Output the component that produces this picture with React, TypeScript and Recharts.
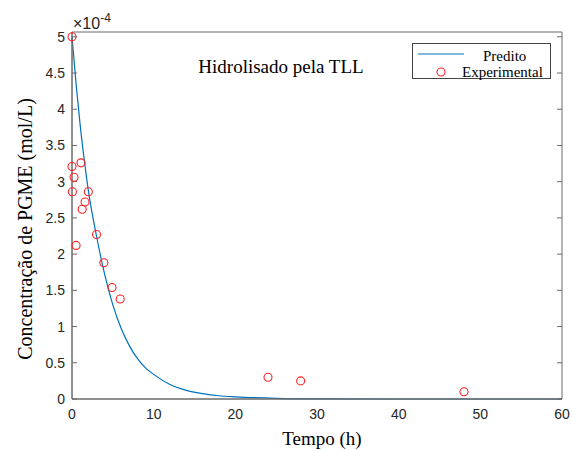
import React from 'react';
import { ComposedChart, Line, Scatter, XAxis, YAxis, Legend } from 'recharts';

// Experimental measurements (time in h, concentration in units of 1e-4 mol/L)
const expTime = [0, 0, 1.1, 0.25, 0.05, 2, 1.6, 1.25, 3, 0.5, 3.9, 4.9, 5.9, 24, 28, 48];
const expConc = [5.0, 3.21, 3.26, 3.06, 2.86, 2.86, 2.72, 2.62, 2.27, 2.12, 1.88, 1.54, 1.38, 0.3, 0.25, 0.1];

// Predicted curve
const predTime = [0, 0.5, 1, 1.5, 2, 3, 4, 5, 6, 7, 8, 9, 10, 12, 14, 16, 18, 20, 25, 30, 40, 50, 60];
const predConc = [5.0, 4.35, 3.78, 3.3, 2.88, 2.25, 1.72, 1.3, 0.98, 0.74, 0.56, 0.43, 0.34, 0.2, 0.12, 0.075, 0.045, 0.03, 0.01, 0.003, 0, 0, 0];

const xTicks = [0, 10, 20, 30, 40, 50, 60];
const yTicks = [0, 0.5, 1, 1.5, 2, 2.5, 3, 3.5, 4, 4.5, 5];

const expData = expTime.map((t, i) => ({ t, c: expConc[i] }));
const predData = predTime.map((t, i) => ({ t, c: predConc[i] }));

const X_DOMAIN: [number, number] = [0, 60];
const Y_DOMAIN: [number, number] = [0, 5.066];

const AXIS_COLOR = '#6b6b6b';
const TICK_FONT = { fill: '#262626', fontSize: 14, fontFamily: 'Liberation Sans, Arial, sans-serif' };
const SERIF = 'Liberation Serif, Times New Roman, serif';

const blank = () => '';

const Circle = (props: any) => {
  const { cx, cy } = props;
  if (cx == null || cy == null) return null;
  return <circle cx={cx} cy={cy} r={4} fill="none" stroke="#ff2020" strokeWidth={1.1} />;
};

const LegendBox = () => (
  <div
    style={{
      width: 137,
      height: 34,
      border: '1px solid #444',
      background: '#fff',
      boxSizing: 'content-box',
    }}
  >
    <svg width={137} height={34} style={{ display: 'block', overflow: 'visible' }}>
      <line x1={5} y1={10} x2={51} y2={10} stroke="#0072BD" strokeWidth={1.2} />
      <text x={70} y={12} fontFamily={SERIF} fontSize={15} fill="#000" dominantBaseline="central">
        Predito
      </text>
      <circle cx={28} cy={28} r={4} fill="none" stroke="#ff2020" strokeWidth={1.1} />
      <text x={49} y={28} fontFamily={SERIF} fontSize={15} fill="#000" dominantBaseline="central">
        Experimental
      </text>
    </svg>
  </div>
);

export default function App() {
  return (
    <div style={{ position: 'absolute', left: 0, top: 0, width: 573, height: 450, background: '#fff' }}>
      <ComposedChart width={573} height={450} margin={{ top: 32, right: 11, bottom: 0, left: 0 }}>
        {/* bottom axis with labels */}
        <XAxis
          xAxisId="b"
          type="number"
          dataKey="t"
          domain={X_DOMAIN}
          ticks={xTicks}
          height={51}
          tickLine={false}
          tickSize={0}
          tickMargin={10}
          axisLine={{ stroke: AXIS_COLOR }}
          tick={TICK_FONT}
        />
        {/* inward tick marks, bottom */}
        <XAxis
          xAxisId="bm"
          type="number"
          domain={X_DOMAIN}
          ticks={xTicks}
          allowDataOverflow
          mirror
          orientation="bottom"
          tickSize={5}
          tickLine={{ stroke: AXIS_COLOR }}
          axisLine={{ stroke: AXIS_COLOR }}
          tickFormatter={blank}
        />
        {/* top box edge with inward ticks */}
        <XAxis
          xAxisId="t"
          type="number"
          domain={X_DOMAIN}
          ticks={xTicks}
          allowDataOverflow
          mirror
          orientation="top"
          tickSize={5}
          tickLine={{ stroke: AXIS_COLOR }}
          axisLine={{ stroke: AXIS_COLOR }}
          tickFormatter={blank}
        />
        {/* left axis with labels */}
        <YAxis
          yAxisId="l"
          type="number"
          domain={Y_DOMAIN}
          ticks={yTicks}
          width={72}
          tickLine={false}
          tickSize={0}
          tickMargin={7}
          axisLine={{ stroke: AXIS_COLOR }}
          tick={TICK_FONT}
        />
        <YAxis
          yAxisId="lm"
          type="number"
          domain={Y_DOMAIN}
          ticks={yTicks}
          allowDataOverflow
          mirror
          orientation="left"
          tickSize={5}
          tickLine={{ stroke: AXIS_COLOR }}
          axisLine={{ stroke: AXIS_COLOR }}
          tickFormatter={blank}
        />
        <YAxis
          yAxisId="r"
          type="number"
          domain={Y_DOMAIN}
          ticks={yTicks}
          allowDataOverflow
          mirror
          orientation="right"
          tickSize={5}
          tickLine={{ stroke: AXIS_COLOR }}
          axisLine={{ stroke: AXIS_COLOR }}
          tickFormatter={blank}
        />
        <Line
          xAxisId="b"
          yAxisId="l"
          data={predData}
          dataKey="c"
          type="monotone"
          stroke="#0072BD"
          strokeWidth={1.2}
          dot={false}
          activeDot={false}
          isAnimationActive={false}
          name="Predito"
        />
        <Scatter
          xAxisId="b"
          yAxisId="l"
          data={expData}
          dataKey="c"
          shape={Circle}
          isAnimationActive={false}
          name="Experimental"
        />
        <Legend
          content={LegendBox}
          layout="horizontal"
          verticalAlign="middle"
          align="center"
          wrapperStyle={{ position: 'absolute', left: 412, top: 43, width: 139, height: 36, margin: 0, padding: 0 }}
        />
        <text x={281} y={66} textAnchor="middle" dominantBaseline="central" fontFamily={SERIF} fontSize={19} fill="#000">
          Hidrolisado pela TLL
        </text>
        <text x={322} y={438} textAnchor="middle" dominantBaseline="central" fontFamily={SERIF} fontSize={19} fill="#000">
          Tempo (h)
        </text>
        <text
          x={25}
          y={229}
          transform="rotate(-90 25 229)"
          textAnchor="middle"
          dominantBaseline="central"
          fontFamily={SERIF}
          fontSize={20}
          fill="#000"
        >
          Concentração de PGME (mol/L)
        </text>
        <text x={73} y={29} fontFamily="Liberation Sans, Arial, sans-serif" fontSize={16} fill="#262626">
          ×10
          <tspan fontSize={12} dy={-7}>-4</tspan>
        </text>
      </ComposedChart>
    </div>
  );
}
